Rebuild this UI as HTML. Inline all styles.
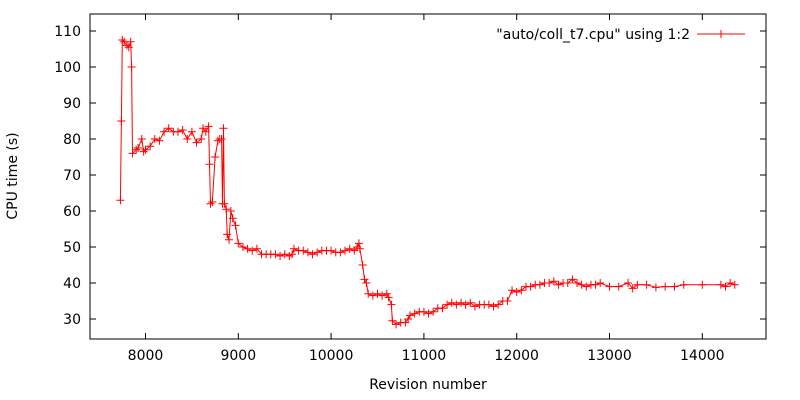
<!DOCTYPE html>
<html><head><meta charset="utf-8"><style>body{margin:0;background:#fff}svg{display:block;font-family:"DejaVu Sans","Liberation Sans",sans-serif;font-size:14px}</style></head>
<body>
<svg id="chart" width="800" height="400">
<rect x="90" y="14" width="676" height="325" fill="none" stroke="#000" stroke-width="1"/>
<g id="axes"></g>
<g id="series"></g>
<text x="17" y="176" transform="rotate(-90 17 176)" text-anchor="middle">CPU time (s)</text>
<text x="428" y="389" text-anchor="middle">Revision number</text>
<g>
<text x="690" y="39" text-anchor="end">"auto/coll_t7.cpu" using 1:2</text>
<line x1="697" y1="34" x2="745" y2="34" stroke="#f00"/>
<path d="M717 34h8M721 30v8" stroke="#f00"/>
</g>
</svg>
<script>
const xTicks=[8000,9000,10000,11000,12000,13000,14000];
const yTicks=[30,40,50,60,70,80,90,100,110];
const revisions=[7730,7740,7750,7770,7800,7820,7840,7850,7860,7900,7920,7960,7980,8000,8050,8100,8150,8200,8250,8300,8350,8400,8450,8500,8550,8600,8620,8650,8680,8690,8700,8720,8750,8780,8800,8820,8830,8840,8850,8870,8880,8900,8920,8940,8970,9000,9050,9100,9150,9200,9250,9300,9350,9400,9450,9500,9550,9580,9600,9650,9700,9750,9800,9850,9900,9950,10000,10050,10100,10150,10200,10250,10280,10300,10310,10340,10360,10380,10400,10450,10500,10550,10600,10620,10650,10660,10700,10750,10800,10830,10850,10900,10950,11000,11050,11100,11150,11200,11250,11300,11350,11400,11450,11500,11550,11600,11650,11700,11750,11800,11850,11900,11950,12000,12050,12100,12150,12200,12250,12300,12350,12400,12450,12500,12550,12600,12650,12700,12750,12800,12850,12900,13000,13100,13200,13250,13300,13400,13500,13600,13700,13800,14000,14200,14250,14300,14350];
const cpuTimes=[63,85,107.5,107,106,105.5,107,100,76,77,77.5,80,76.5,77,78,80,79.5,82,83,82,82,82.5,80,82,79,80,83,82,83.5,73,62,62.5,75,79.5,80,80,62,83,62,60.5,53.5,52,60,58,56,51,50,49.5,49,49.5,48,48,48,48,47.5,48,47.5,48,49.5,49,49,48.5,48,48.5,49,49,49,48.5,48.5,49,49.5,49,50,51,49.5,45,41,40,37,36.5,37,36.5,37,36,34,29.5,28.5,29,29,30,31,31.5,32,32,31.5,32,33,33,34,34.5,34,34.5,34,34.5,33.5,34,34,34,33.5,34,35,35,38,37.5,38,39,39,39.5,39.5,40,40,40.5,39.5,40,40,41,40,39.5,39,39.5,39.5,40,39,39,40,38.5,39.5,39.5,38.8,39,39,39.5,39.5,39.5,39,40,39.5];
const NS='http://www.w3.org/2000/svg';
function xs(v){return 145.5+(v-8000)*0.0928;}
function ys(v){return 319-(v-30)*3.6;}
const axes=document.getElementById('axes');
for(const t of xTicks){
 const x=xs(t);
 const l=document.createElementNS(NS,'path');
 l.setAttribute('d',`M${x} 339v-6M${x} 14v6`);l.setAttribute('stroke','#000');
 
 
 axes.appendChild(l);
 const tx=document.createElementNS(NS,'text');
 tx.setAttribute('x',x);tx.setAttribute('y',360);tx.setAttribute('text-anchor','middle');tx.textContent=t;
 
 
 axes.appendChild(tx);
}
for(const t of yTicks){
 const y=ys(t);
 const l=document.createElementNS(NS,'path');
 l.setAttribute('d',`M90 ${y}h6M766 ${y}h-6`);l.setAttribute('stroke','#000');
 
 
 axes.appendChild(l);
 const tx=document.createElementNS(NS,'text');
 tx.setAttribute('x',81);tx.setAttribute('y',y+5);tx.setAttribute('text-anchor','end');tx.textContent=t;
 
 
 axes.appendChild(tx);
}
const g=document.getElementById('series');
let d='';
revisions.forEach((r,i)=>{d+=(i?'L':'M')+xs(r).toFixed(1)+' '+ys(cpuTimes[i]).toFixed(1);});
const line=document.createElementNS(NS,'path');
line.setAttribute('d',d);line.setAttribute('fill','none');line.setAttribute('stroke','#f00');


g.appendChild(line);
revisions.forEach((r,i)=>{
 const x=xs(r),y=ys(cpuTimes[i]);
 const p=document.createElementNS(NS,'path');
 p.setAttribute('d',`M${x-4} ${y}h8M${x} ${y-4}v8`);p.setAttribute('stroke','#f00');
 
 
 g.appendChild(p);
});
</script>
</body></html>
